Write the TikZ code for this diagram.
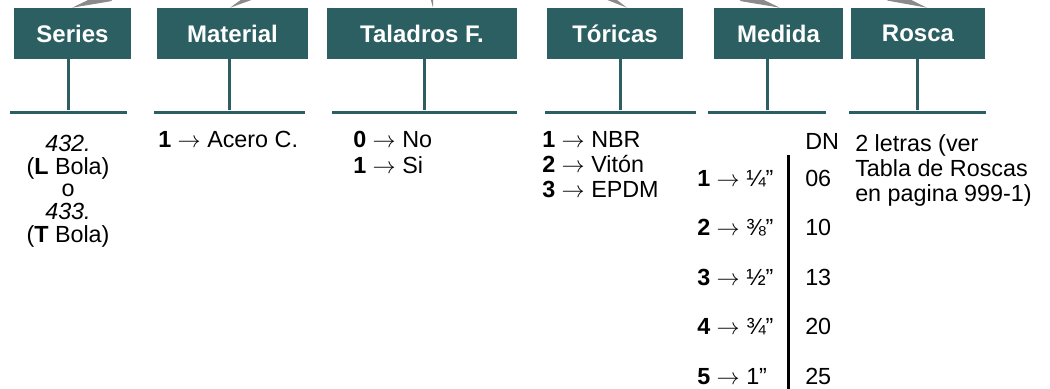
\documentclass[tikz,border=0pt]{standalone}
\usepackage{fontspec}
\setmainfont{Liberation Sans}
\usepackage{xcolor}
\usepackage{tikz}
\usetikzlibrary{arrows.meta}

\definecolor{tealbox}{HTML}{2B5F61}
\definecolor{feedgray}{HTML}{8A8A8A}
\newcommand{\pxu}{0.75pt}
\newcommand{\goesto}{$\rightarrow$}

\tikzset{
	header/.style={fill=tealbox, text=white, inner sep=0pt, minimum height=51*\pxu, font=\fontsize{18}{22}\selectfont\bfseries},
	bar/.style={fill=tealbox, inner sep=0pt, minimum height=3*\pxu},
	stem/.style={draw=tealbox, line width=3*\pxu},
	feed/.style={draw=feedgray, line width=1*\pxu, -{Triangle[length=40*\pxu, width=11*\pxu]}},
	entry/.style={inner sep=0pt, anchor=base west, font=\fontsize{17.5}{21}\selectfont},
	centry/.style={entry, anchor=base},
}

\begin{document}
\begin{tikzpicture}[x=\pxu, y=-\pxu]

	\useasboundingbox (0,0) rectangle (1050,389);

	\node[header, minimum width=117*\pxu] (Series) at (72.5, 33.5) {Series};
	\node[header, minimum width=151*\pxu] (Material) at (232.5, 33.5) {Material};
	\node[header, minimum width=190*\pxu] (Taladros) at (422, 33.5) {Taladros F.};
	\node[header, minimum width=136*\pxu] (Toricas) at (615, 33.5) {Tóricas};
	\node[header, minimum width=129*\pxu] (Medida) at (778.5, 33.5) {Medida};
	\node[header, minimum width=134*\pxu] (Rosca) at (918, 33.5) {Rosca};

	\coordinate (aSeries) at (172, -24);
	\coordinate (aMaterial) at (290, -24);
	\coordinate (aTaladros) at (429, -24);
	\coordinate (aToricas) at (571, -24);
	\coordinate (aMedida) at (680, -24);
	\coordinate (aRosca) at (831, -24);

	\draw[feed] (aSeries) -- ([xshift=-0.5*\pxu]Series.north);
	\draw[feed] (aMaterial) -- ([xshift=-2.5*\pxu]Material.north);
	\draw[feed] (aTaladros) -- ([xshift=11*\pxu]Taladros.north);
	\draw[feed] (aToricas) -- ([xshift=12*\pxu]Toricas.north);
	\draw[feed] (aMedida) -- ([xshift=1.5*\pxu]Medida.north);
	\draw[feed] (aRosca) -- ([xshift=9*\pxu]Rosca.north);

	\node[bar, minimum width=117*\pxu] (bSeries) at (68.5, 112) {};
	\node[bar, minimum width=151*\pxu] (bMaterial) at (229, 112) {};
	\node[bar, minimum width=185*\pxu] (bTaladros) at (424.5, 112) {};
	\node[bar, minimum width=151*\pxu] (bToricas) at (620, 112) {};
	\node[bar, minimum width=118*\pxu] (bMedida) at (767, 112) {};
	\node[bar, minimum width=137*\pxu] (bRosca) at (917.5, 112) {};

	\draw[stem] (Series.south -| bSeries) -- (bSeries);
	\draw[stem] (Material.south -| bMaterial) -- (bMaterial);
	\draw[stem] (Taladros.south -| bTaladros) -- (bTaladros);
	\draw[stem] (Toricas.south -| bToricas) -- (bToricas);
	\draw[stem] (Medida.south -| bMedida) -- (bMedida);
	\draw[stem] (Rosca.south -| bRosca) -- (bRosca);

	\node[centry] (ser1) at (68, 151) {\textit{432.}};
	\node[centry] (ser2) at (68, 174) {(\textbf{L} Bola)};
	\node[centry] (ser3) at (68, 196.5) {o};
	\node[centry] (ser4) at (68, 219) {\textit{433.}};
	\node[centry] (ser5) at (68, 242) {(\textbf{T} Bola)};

	\node[entry] (mat1) at (158, 147) {\textbf{1} \goesto{} Acero C.};

	\node[entry] (tal0) at (353, 147) {\textbf{0} \goesto{} No};
	\node[entry] (tal1) at (353, 173) {\textbf{1} \goesto{} Si};

	\node[entry] (tor1) at (542, 147) {\textbf{1} \goesto{} NBR};
	\node[entry] (tor2) at (542, 172) {\textbf{2} \goesto{} Vitón};
	\node[entry] (tor3) at (542, 197) {\textbf{3} \goesto{} EPDM};

	\node[entry] (DN) at (805, 149) {DN};
	\node[entry] (med1) at (697, 186) {\textbf{1} \goesto{} ¼”};
	\node[entry] (med2) at (697, 235.5) {\textbf{2} \goesto{} ⅜”};
	\node[entry] (med3) at (697, 285) {\textbf{3} \goesto{} ½”};
	\node[entry] (med4) at (697, 334.5) {\textbf{4} \goesto{} ¾”};
	\node[entry] (med5) at (697, 384) {\textbf{5} \goesto{} 1”};
	\node[entry] (dn1) at (805, 186) {06};
	\node[entry] (dn2) at (805, 235.5) {10};
	\node[entry] (dn3) at (805, 285) {13};
	\node[entry] (dn4) at (805, 334.5) {20};
	\node[entry] (dn5) at (805, 384) {25};
	\coordinate (rTop) at (788, 155);
	\coordinate (rBot) at (788, 389);
	\draw[line width=3*\pxu] (rTop) -- (rBot);

	\node[entry] (ros1) at (855, 151) {2 letras (ver};
	\node[entry] (ros2) at (855, 176) {Tabla de Roscas};
	\node[entry] (ros3) at (855, 201) {en pagina 999-1)};

\end{tikzpicture}
\end{document}
